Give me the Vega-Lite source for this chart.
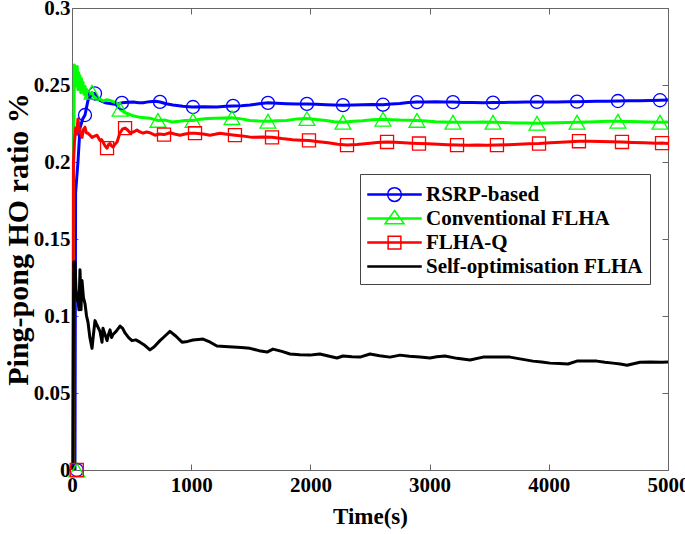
{
  "$schema": "https://vega.github.io/schema/vega-lite/v6.json",
  "width": 596,
  "height": 462,
  "autosize": {"type": "none"},
  "padding": {"left": 72, "top": 8, "right": 17, "bottom": 64},
  "background": "white",
  "config": {
    "view": {"stroke": null},
    "axis": {
      "labelFont": "Liberation Serif", "labelFontWeight": "bold", "labelFontSize": 21, "labelColor": "#000",
      "titleFont": "Liberation Serif", "titleFontWeight": "bold", "titleFontSize": 23, "titleColor": "#000",
      "domainColor": "#666", "tickColor": "#666", "tickSize": -6, "grid": false, "labelPadding": 8,
      "labelFlush": false, "labelOverlap": false
    }
  },
  "datasets": {
    "lines": [
      {"series":"RSRP-based","t":25,"v":0},{"series":"RSRP-based","t":30,"v":0.18},{"series":"RSRP-based","t":50,"v":0.2},{"series":"RSRP-based","t":67,"v":0.222},{"series":"RSRP-based","t":90,"v":0.228},{"series":"RSRP-based","t":109,"v":0.2305},{"series":"RSRP-based","t":134,"v":0.24},{"series":"RSRP-based","t":168,"v":0.2445},{"series":"RSRP-based","t":193,"v":0.2445},{"series":"RSRP-based","t":215,"v":0.241},{"series":"RSRP-based","t":235,"v":0.24},{"series":"RSRP-based","t":277,"v":0.2385},{"series":"RSRP-based","t":319,"v":0.238},{"series":"RSRP-based","t":361,"v":0.2375},{"series":"RSRP-based","t":419,"v":0.2384},{"series":"RSRP-based","t":470,"v":0.2388},{"series":"RSRP-based","t":512,"v":0.239},{"series":"RSRP-based","t":560,"v":0.2385},{"series":"RSRP-based","t":596,"v":0.2385},{"series":"RSRP-based","t":650,"v":0.2392},{"series":"RSRP-based","t":700,"v":0.2395},{"series":"RSRP-based","t":738,"v":0.239},{"series":"RSRP-based","t":790,"v":0.2378},{"series":"RSRP-based","t":847,"v":0.237},{"series":"RSRP-based","t":930,"v":0.2362},{"series":"RSRP-based","t":1007,"v":0.2357},{"series":"RSRP-based","t":1100,"v":0.2358},{"series":"RSRP-based","t":1216,"v":0.2357},{"series":"RSRP-based","t":1290,"v":0.2362},{"series":"RSRP-based","t":1351,"v":0.2364},{"series":"RSRP-based","t":1420,"v":0.2366},{"series":"RSRP-based","t":1493,"v":0.237},{"series":"RSRP-based","t":1570,"v":0.2378},{"series":"RSRP-based","t":1644,"v":0.2384},{"series":"RSRP-based","t":1720,"v":0.2381},{"series":"RSRP-based","t":1800,"v":0.2378},{"series":"RSRP-based","t":1890,"v":0.2376},{"series":"RSRP-based","t":1971,"v":0.2377},{"series":"RSRP-based","t":2050,"v":0.2375},{"series":"RSRP-based","t":2130,"v":0.2372},{"series":"RSRP-based","t":2200,"v":0.237},{"series":"RSRP-based","t":2273,"v":0.2369},{"series":"RSRP-based","t":2360,"v":0.237},{"series":"RSRP-based","t":2440,"v":0.2371},{"series":"RSRP-based","t":2520,"v":0.2373},{"series":"RSRP-based","t":2609,"v":0.2372},{"series":"RSRP-based","t":2680,"v":0.2376},{"series":"RSRP-based","t":2750,"v":0.238},{"series":"RSRP-based","t":2820,"v":0.2386},{"series":"RSRP-based","t":2894,"v":0.2389},{"series":"RSRP-based","t":2970,"v":0.239},{"series":"RSRP-based","t":3050,"v":0.2391},{"series":"RSRP-based","t":3120,"v":0.2389},{"series":"RSRP-based","t":3196,"v":0.2389},{"series":"RSRP-based","t":3280,"v":0.2387},{"series":"RSRP-based","t":3360,"v":0.2386},{"series":"RSRP-based","t":3450,"v":0.2385},{"series":"RSRP-based","t":3532,"v":0.2386},{"series":"RSRP-based","t":3620,"v":0.2387},{"series":"RSRP-based","t":3720,"v":0.2388},{"series":"RSRP-based","t":3810,"v":0.2389},{"series":"RSRP-based","t":3901,"v":0.239},{"series":"RSRP-based","t":3990,"v":0.239},{"series":"RSRP-based","t":4070,"v":0.239},{"series":"RSRP-based","t":4160,"v":0.2391},{"series":"RSRP-based","t":4237,"v":0.2392},{"series":"RSRP-based","t":4320,"v":0.2393},{"series":"RSRP-based","t":4400,"v":0.2394},{"series":"RSRP-based","t":4490,"v":0.2395},{"series":"RSRP-based","t":4580,"v":0.2396},{"series":"RSRP-based","t":4670,"v":0.2397},{"series":"RSRP-based","t":4760,"v":0.2398},{"series":"RSRP-based","t":4850,"v":0.24},{"series":"RSRP-based","t":4933,"v":0.2401},{"series":"RSRP-based","t":5000,"v":0.2402},
      {"series":"Conventional FLHA","t":10,"v":0},{"series":"Conventional FLHA","t":14,"v":0.2},{"series":"Conventional FLHA","t":20,"v":0.263},{"series":"Conventional FLHA","t":26,"v":0.249},{"series":"Conventional FLHA","t":32,"v":0.261},{"series":"Conventional FLHA","t":38,"v":0.252},{"series":"Conventional FLHA","t":44,"v":0.262},{"series":"Conventional FLHA","t":50,"v":0.247},{"series":"Conventional FLHA","t":56,"v":0.258},{"series":"Conventional FLHA","t":62,"v":0.249},{"series":"Conventional FLHA","t":67,"v":0.256},{"series":"Conventional FLHA","t":74,"v":0.245},{"series":"Conventional FLHA","t":80,"v":0.254},{"series":"Conventional FLHA","t":86,"v":0.246},{"series":"Conventional FLHA","t":92,"v":0.252},{"series":"Conventional FLHA","t":100,"v":0.244},{"series":"Conventional FLHA","t":110,"v":0.249},{"series":"Conventional FLHA","t":118,"v":0.242},{"series":"Conventional FLHA","t":126,"v":0.247},{"series":"Conventional FLHA","t":134,"v":0.243},{"series":"Conventional FLHA","t":151,"v":0.2445},{"series":"Conventional FLHA","t":168,"v":0.2453},{"series":"Conventional FLHA","t":180,"v":0.2425},{"series":"Conventional FLHA","t":193,"v":0.242},{"series":"Conventional FLHA","t":215,"v":0.2405},{"series":"Conventional FLHA","t":235,"v":0.241},{"series":"Conventional FLHA","t":260,"v":0.2395},{"series":"Conventional FLHA","t":290,"v":0.2405},{"series":"Conventional FLHA","t":319,"v":0.24},{"series":"Conventional FLHA","t":350,"v":0.239},{"series":"Conventional FLHA","t":378,"v":0.238},{"series":"Conventional FLHA","t":403,"v":0.2343},{"series":"Conventional FLHA","t":445,"v":0.232},{"series":"Conventional FLHA","t":480,"v":0.231},{"series":"Conventional FLHA","t":512,"v":0.23},{"series":"Conventional FLHA","t":570,"v":0.229},{"series":"Conventional FLHA","t":610,"v":0.2288},{"series":"Conventional FLHA","t":654,"v":0.2284},{"series":"Conventional FLHA","t":721,"v":0.227},{"series":"Conventional FLHA","t":780,"v":0.2272},{"series":"Conventional FLHA","t":839,"v":0.226},{"series":"Conventional FLHA","t":900,"v":0.2265},{"series":"Conventional FLHA","t":948,"v":0.227},{"series":"Conventional FLHA","t":1015,"v":0.227},{"series":"Conventional FLHA","t":1074,"v":0.2278},{"series":"Conventional FLHA","t":1140,"v":0.2282},{"series":"Conventional FLHA","t":1200,"v":0.2284},{"series":"Conventional FLHA","t":1280,"v":0.2286},{"series":"Conventional FLHA","t":1342,"v":0.2288},{"series":"Conventional FLHA","t":1420,"v":0.228},{"series":"Conventional FLHA","t":1493,"v":0.227},{"series":"Conventional FLHA","t":1570,"v":0.2266},{"series":"Conventional FLHA","t":1644,"v":0.2265},{"series":"Conventional FLHA","t":1720,"v":0.2268},{"series":"Conventional FLHA","t":1800,"v":0.227},{"series":"Conventional FLHA","t":1890,"v":0.228},{"series":"Conventional FLHA","t":1971,"v":0.2282},{"series":"Conventional FLHA","t":2050,"v":0.2276},{"series":"Conventional FLHA","t":2130,"v":0.227},{"series":"Conventional FLHA","t":2200,"v":0.2262},{"series":"Conventional FLHA","t":2273,"v":0.2258},{"series":"Conventional FLHA","t":2360,"v":0.2264},{"series":"Conventional FLHA","t":2440,"v":0.2268},{"series":"Conventional FLHA","t":2520,"v":0.2274},{"series":"Conventional FLHA","t":2609,"v":0.2278},{"series":"Conventional FLHA","t":2680,"v":0.2275},{"series":"Conventional FLHA","t":2750,"v":0.2272},{"series":"Conventional FLHA","t":2820,"v":0.2271},{"series":"Conventional FLHA","t":2894,"v":0.227},{"series":"Conventional FLHA","t":2970,"v":0.2266},{"series":"Conventional FLHA","t":3050,"v":0.2262},{"series":"Conventional FLHA","t":3120,"v":0.226},{"series":"Conventional FLHA","t":3196,"v":0.2258},{"series":"Conventional FLHA","t":3280,"v":0.2258},{"series":"Conventional FLHA","t":3360,"v":0.2258},{"series":"Conventional FLHA","t":3450,"v":0.2259},{"series":"Conventional FLHA","t":3532,"v":0.2258},{"series":"Conventional FLHA","t":3620,"v":0.2256},{"series":"Conventional FLHA","t":3720,"v":0.2254},{"series":"Conventional FLHA","t":3810,"v":0.2253},{"series":"Conventional FLHA","t":3901,"v":0.2252},{"series":"Conventional FLHA","t":3990,"v":0.2254},{"series":"Conventional FLHA","t":4070,"v":0.2255},{"series":"Conventional FLHA","t":4160,"v":0.2257},{"series":"Conventional FLHA","t":4237,"v":0.2258},{"series":"Conventional FLHA","t":4320,"v":0.226},{"series":"Conventional FLHA","t":4400,"v":0.2262},{"series":"Conventional FLHA","t":4490,"v":0.2264},{"series":"Conventional FLHA","t":4580,"v":0.2265},{"series":"Conventional FLHA","t":4670,"v":0.2263},{"series":"Conventional FLHA","t":4760,"v":0.2262},{"series":"Conventional FLHA","t":4850,"v":0.226},{"series":"Conventional FLHA","t":4933,"v":0.2258},{"series":"Conventional FLHA","t":5000,"v":0.226},
      {"series":"FLHA-Q","t":8,"v":0},{"series":"FLHA-Q","t":12,"v":0.2},{"series":"FLHA-Q","t":20,"v":0.212},{"series":"FLHA-Q","t":30,"v":0.222},{"series":"FLHA-Q","t":40,"v":0.218},{"series":"FLHA-Q","t":50,"v":0.228},{"series":"FLHA-Q","t":60,"v":0.222},{"series":"FLHA-Q","t":70,"v":0.219},{"series":"FLHA-Q","t":84,"v":0.216},{"series":"FLHA-Q","t":96,"v":0.221},{"series":"FLHA-Q","t":109,"v":0.2226},{"series":"FLHA-Q","t":120,"v":0.219},{"series":"FLHA-Q","t":134,"v":0.2187},{"series":"FLHA-Q","t":150,"v":0.2175},{"series":"FLHA-Q","t":168,"v":0.216},{"series":"FLHA-Q","t":190,"v":0.2168},{"series":"FLHA-Q","t":210,"v":0.2174},{"series":"FLHA-Q","t":235,"v":0.214},{"series":"FLHA-Q","t":248,"v":0.2145},{"series":"FLHA-Q","t":260,"v":0.213},{"series":"FLHA-Q","t":277,"v":0.2105},{"series":"FLHA-Q","t":294,"v":0.209},{"series":"FLHA-Q","t":308,"v":0.2115},{"series":"FLHA-Q","t":319,"v":0.212},{"series":"FLHA-Q","t":332,"v":0.2105},{"series":"FLHA-Q","t":344,"v":0.2097},{"series":"FLHA-Q","t":360,"v":0.2115},{"series":"FLHA-Q","t":378,"v":0.213},{"series":"FLHA-Q","t":403,"v":0.219},{"series":"FLHA-Q","t":425,"v":0.2215},{"series":"FLHA-Q","t":445,"v":0.222},{"series":"FLHA-Q","t":465,"v":0.221},{"series":"FLHA-Q","t":487,"v":0.219},{"series":"FLHA-Q","t":515,"v":0.2195},{"series":"FLHA-Q","t":545,"v":0.2207},{"series":"FLHA-Q","t":570,"v":0.2195},{"series":"FLHA-Q","t":596,"v":0.2187},{"series":"FLHA-Q","t":625,"v":0.2195},{"series":"FLHA-Q","t":654,"v":0.219},{"series":"FLHA-Q","t":696,"v":0.2174},{"series":"FLHA-Q","t":730,"v":0.2182},{"series":"FLHA-Q","t":772,"v":0.2178},{"series":"FLHA-Q","t":822,"v":0.219},{"series":"FLHA-Q","t":860,"v":0.2182},{"series":"FLHA-Q","t":906,"v":0.2174},{"series":"FLHA-Q","t":950,"v":0.2182},{"series":"FLHA-Q","t":990,"v":0.2187},{"series":"FLHA-Q","t":1032,"v":0.2187},{"series":"FLHA-Q","t":1100,"v":0.2182},{"series":"FLHA-Q","t":1158,"v":0.2174},{"series":"FLHA-Q","t":1200,"v":0.218},{"series":"FLHA-Q","t":1242,"v":0.2187},{"series":"FLHA-Q","t":1300,"v":0.218},{"series":"FLHA-Q","t":1367,"v":0.2174},{"series":"FLHA-Q","t":1440,"v":0.2168},{"series":"FLHA-Q","t":1510,"v":0.216},{"series":"FLHA-Q","t":1600,"v":0.2162},{"series":"FLHA-Q","t":1678,"v":0.216},{"series":"FLHA-Q","t":1760,"v":0.2152},{"series":"FLHA-Q","t":1850,"v":0.2145},{"series":"FLHA-Q","t":1920,"v":0.2142},{"series":"FLHA-Q","t":1988,"v":0.214},{"series":"FLHA-Q","t":2070,"v":0.2132},{"series":"FLHA-Q","t":2150,"v":0.2125},{"series":"FLHA-Q","t":2230,"v":0.2115},{"series":"FLHA-Q","t":2307,"v":0.211},{"series":"FLHA-Q","t":2390,"v":0.2113},{"series":"FLHA-Q","t":2480,"v":0.212},{"series":"FLHA-Q","t":2560,"v":0.2126},{"series":"FLHA-Q","t":2643,"v":0.213},{"series":"FLHA-Q","t":2710,"v":0.2128},{"series":"FLHA-Q","t":2785,"v":0.2125},{"series":"FLHA-Q","t":2850,"v":0.2122},{"series":"FLHA-Q","t":2911,"v":0.212},{"series":"FLHA-Q","t":2990,"v":0.2118},{"series":"FLHA-Q","t":3070,"v":0.2115},{"series":"FLHA-Q","t":3150,"v":0.2112},{"series":"FLHA-Q","t":3230,"v":0.211},{"series":"FLHA-Q","t":3320,"v":0.2108},{"series":"FLHA-Q","t":3400,"v":0.211},{"series":"FLHA-Q","t":3480,"v":0.2108},{"series":"FLHA-Q","t":3565,"v":0.211},{"series":"FLHA-Q","t":3660,"v":0.2112},{"series":"FLHA-Q","t":3750,"v":0.2115},{"series":"FLHA-Q","t":3830,"v":0.2118},{"series":"FLHA-Q","t":3918,"v":0.212},{"series":"FLHA-Q","t":4010,"v":0.2125},{"series":"FLHA-Q","t":4100,"v":0.2128},{"series":"FLHA-Q","t":4180,"v":0.2132},{"series":"FLHA-Q","t":4253,"v":0.2135},{"series":"FLHA-Q","t":4340,"v":0.2134},{"series":"FLHA-Q","t":4430,"v":0.2133},{"series":"FLHA-Q","t":4520,"v":0.2132},{"series":"FLHA-Q","t":4614,"v":0.213},{"series":"FLHA-Q","t":4700,"v":0.2127},{"series":"FLHA-Q","t":4800,"v":0.2125},{"series":"FLHA-Q","t":4900,"v":0.2122},{"series":"FLHA-Q","t":4950,"v":0.2123},{"series":"FLHA-Q","t":5000,"v":0.212},
      {"series":"Self-optimisation FLHA","t":8,"v":0},{"series":"Self-optimisation FLHA","t":12,"v":0.1},{"series":"Self-optimisation FLHA","t":15,"v":0.135},{"series":"Self-optimisation FLHA","t":25,"v":0.135},{"series":"Self-optimisation FLHA","t":33,"v":0.118},{"series":"Self-optimisation FLHA","t":42,"v":0.11},{"series":"Self-optimisation FLHA","t":50,"v":0.112},{"series":"Self-optimisation FLHA","t":58,"v":0.104},{"series":"Self-optimisation FLHA","t":67,"v":0.13},{"series":"Self-optimisation FLHA","t":72,"v":0.118},{"series":"Self-optimisation FLHA","t":76,"v":0.104},{"series":"Self-optimisation FLHA","t":80,"v":0.118},{"series":"Self-optimisation FLHA","t":84,"v":0.123},{"series":"Self-optimisation FLHA","t":96,"v":0.112},{"series":"Self-optimisation FLHA","t":109,"v":0.108},{"series":"Self-optimisation FLHA","t":122,"v":0.1},{"series":"Self-optimisation FLHA","t":134,"v":0.096},{"series":"Self-optimisation FLHA","t":150,"v":0.086},{"series":"Self-optimisation FLHA","t":168,"v":0.079},{"series":"Self-optimisation FLHA","t":180,"v":0.088},{"series":"Self-optimisation FLHA","t":193,"v":0.097},{"series":"Self-optimisation FLHA","t":210,"v":0.094},{"series":"Self-optimisation FLHA","t":235,"v":0.09},{"series":"Self-optimisation FLHA","t":252,"v":0.083},{"series":"Self-optimisation FLHA","t":260,"v":0.092},{"series":"Self-optimisation FLHA","t":277,"v":0.088},{"series":"Self-optimisation FLHA","t":294,"v":0.084},{"series":"Self-optimisation FLHA","t":306,"v":0.088},{"series":"Self-optimisation FLHA","t":319,"v":0.091},{"series":"Self-optimisation FLHA","t":332,"v":0.086},{"series":"Self-optimisation FLHA","t":344,"v":0.088},{"series":"Self-optimisation FLHA","t":370,"v":0.09},{"series":"Self-optimisation FLHA","t":403,"v":0.0935},{"series":"Self-optimisation FLHA","t":425,"v":0.092},{"series":"Self-optimisation FLHA","t":445,"v":0.089},{"series":"Self-optimisation FLHA","t":475,"v":0.086},{"series":"Self-optimisation FLHA","t":503,"v":0.084},{"series":"Self-optimisation FLHA","t":535,"v":0.0845},{"series":"Self-optimisation FLHA","t":570,"v":0.083},{"series":"Self-optimisation FLHA","t":610,"v":0.081},{"series":"Self-optimisation FLHA","t":654,"v":0.078},{"series":"Self-optimisation FLHA","t":690,"v":0.08},{"series":"Self-optimisation FLHA","t":738,"v":0.084},{"series":"Self-optimisation FLHA","t":780,"v":0.087},{"series":"Self-optimisation FLHA","t":822,"v":0.09},{"series":"Self-optimisation FLHA","t":870,"v":0.087},{"series":"Self-optimisation FLHA","t":923,"v":0.083},{"series":"Self-optimisation FLHA","t":970,"v":0.0835},{"series":"Self-optimisation FLHA","t":1015,"v":0.0844},{"series":"Self-optimisation FLHA","t":1060,"v":0.0848},{"series":"Self-optimisation FLHA","t":1099,"v":0.085},{"series":"Self-optimisation FLHA","t":1160,"v":0.083},{"series":"Self-optimisation FLHA","t":1216,"v":0.0805},{"series":"Self-optimisation FLHA","t":1280,"v":0.0802},{"series":"Self-optimisation FLHA","t":1351,"v":0.0798},{"series":"Self-optimisation FLHA","t":1420,"v":0.0795},{"series":"Self-optimisation FLHA","t":1493,"v":0.079},{"series":"Self-optimisation FLHA","t":1570,"v":0.0775},{"series":"Self-optimisation FLHA","t":1636,"v":0.0766},{"series":"Self-optimisation FLHA","t":1686,"v":0.0785},{"series":"Self-optimisation FLHA","t":1760,"v":0.077},{"series":"Self-optimisation FLHA","t":1829,"v":0.0753},{"series":"Self-optimisation FLHA","t":1910,"v":0.0748},{"series":"Self-optimisation FLHA","t":1997,"v":0.0746},{"series":"Self-optimisation FLHA","t":2040,"v":0.075},{"series":"Self-optimisation FLHA","t":2080,"v":0.0753},{"series":"Self-optimisation FLHA","t":2150,"v":0.074},{"series":"Self-optimisation FLHA","t":2223,"v":0.0727},{"series":"Self-optimisation FLHA","t":2273,"v":0.074},{"series":"Self-optimisation FLHA","t":2350,"v":0.0735},{"series":"Self-optimisation FLHA","t":2416,"v":0.0733},{"series":"Self-optimisation FLHA","t":2500,"v":0.0753},{"series":"Self-optimisation FLHA","t":2580,"v":0.0742},{"series":"Self-optimisation FLHA","t":2668,"v":0.0733},{"series":"Self-optimisation FLHA","t":2752,"v":0.0746},{"series":"Self-optimisation FLHA","t":2830,"v":0.0738},{"series":"Self-optimisation FLHA","t":2919,"v":0.0733},{"series":"Self-optimisation FLHA","t":3003,"v":0.0727},{"series":"Self-optimisation FLHA","t":3060,"v":0.0735},{"series":"Self-optimisation FLHA","t":3129,"v":0.074},{"series":"Self-optimisation FLHA","t":3230,"v":0.0725},{"series":"Self-optimisation FLHA","t":3339,"v":0.0714},{"series":"Self-optimisation FLHA","t":3448,"v":0.0733},{"series":"Self-optimisation FLHA","t":3560,"v":0.0734},{"series":"Self-optimisation FLHA","t":3674,"v":0.0733},{"series":"Self-optimisation FLHA","t":3770,"v":0.072},{"series":"Self-optimisation FLHA","t":3867,"v":0.0707},{"series":"Self-optimisation FLHA","t":3940,"v":0.0702},{"series":"Self-optimisation FLHA","t":4010,"v":0.0694},{"series":"Self-optimisation FLHA","t":4090,"v":0.0691},{"series":"Self-optimisation FLHA","t":4161,"v":0.0688},{"series":"Self-optimisation FLHA","t":4236,"v":0.0707},{"series":"Self-optimisation FLHA","t":4320,"v":0.0708},{"series":"Self-optimisation FLHA","t":4404,"v":0.0707},{"series":"Self-optimisation FLHA","t":4470,"v":0.07},{"series":"Self-optimisation FLHA","t":4538,"v":0.0694},{"series":"Self-optimisation FLHA","t":4600,"v":0.0688},{"series":"Self-optimisation FLHA","t":4656,"v":0.068},{"series":"Self-optimisation FLHA","t":4765,"v":0.07},{"series":"Self-optimisation FLHA","t":4850,"v":0.0702},{"series":"Self-optimisation FLHA","t":4950,"v":0.07},{"series":"Self-optimisation FLHA","t":5000,"v":0.0702}
    ],
    "markers": [
      {"series":"RSRP-based","t":40,"v":0},{"series":"RSRP-based","t":109,"v":0.2305},{"series":"RSRP-based","t":193,"v":0.2445},{"series":"RSRP-based","t":419,"v":0.2384},{"series":"RSRP-based","t":738,"v":0.239},{"series":"RSRP-based","t":1015,"v":0.2357},{"series":"RSRP-based","t":1351,"v":0.2364},{"series":"RSRP-based","t":1644,"v":0.2384},{"series":"RSRP-based","t":1971,"v":0.2377},{"series":"RSRP-based","t":2273,"v":0.2369},{"series":"RSRP-based","t":2609,"v":0.2372},{"series":"RSRP-based","t":2894,"v":0.2389},{"series":"RSRP-based","t":3196,"v":0.2389},{"series":"RSRP-based","t":3532,"v":0.2386},{"series":"RSRP-based","t":3901,"v":0.239},{"series":"RSRP-based","t":4237,"v":0.2392},{"series":"RSRP-based","t":4580,"v":0.2396},{"series":"RSRP-based","t":4933,"v":0.2401},
      {"series":"Conventional FLHA","t":40,"v":0},{"series":"Conventional FLHA","t":168,"v":0.2453},{"series":"Conventional FLHA","t":403,"v":0.2343},{"series":"Conventional FLHA","t":721,"v":0.227},{"series":"Conventional FLHA","t":1015,"v":0.227},{"series":"Conventional FLHA","t":1342,"v":0.2288},{"series":"Conventional FLHA","t":1644,"v":0.2265},{"series":"Conventional FLHA","t":1971,"v":0.2282},{"series":"Conventional FLHA","t":2273,"v":0.2258},{"series":"Conventional FLHA","t":2609,"v":0.2278},{"series":"Conventional FLHA","t":2894,"v":0.227},{"series":"Conventional FLHA","t":3196,"v":0.2258},{"series":"Conventional FLHA","t":3532,"v":0.2258},{"series":"Conventional FLHA","t":3901,"v":0.2252},{"series":"Conventional FLHA","t":4237,"v":0.2258},{"series":"Conventional FLHA","t":4580,"v":0.2265},{"series":"Conventional FLHA","t":4933,"v":0.2258},
      {"series":"FLHA-Q","t":40,"v":0},{"series":"FLHA-Q","t":294,"v":0.209},{"series":"FLHA-Q","t":445,"v":0.222},{"series":"FLHA-Q","t":772,"v":0.2178},{"series":"FLHA-Q","t":1032,"v":0.2187},{"series":"FLHA-Q","t":1367,"v":0.2174},{"series":"FLHA-Q","t":1678,"v":0.216},{"series":"FLHA-Q","t":1988,"v":0.214},{"series":"FLHA-Q","t":2307,"v":0.211},{"series":"FLHA-Q","t":2643,"v":0.213},{"series":"FLHA-Q","t":2911,"v":0.212},{"series":"FLHA-Q","t":3230,"v":0.211},{"series":"FLHA-Q","t":3565,"v":0.211},{"series":"FLHA-Q","t":3918,"v":0.212},{"series":"FLHA-Q","t":4253,"v":0.2135},{"series":"FLHA-Q","t":4614,"v":0.213},{"series":"FLHA-Q","t":4950,"v":0.2123}
    ]
  },
  "resolve": {"axis": {"x": "independent", "y": "independent"}},
  "layer": [
    {
      "data": {"name": "lines"},
      "transform": [{"filter": "datum.series === 'RSRP-based'"}],
      "mark": {"type": "line", "strokeWidth": 3, "strokeJoin": "round", "color": "#0000ff"},
      "encoding": {
        "x": {"field": "t", "type": "quantitative", "scale": {"domain": [0, 5000], "nice": false, "zero": false},
          "axis": {"orient": "bottom", "values": [0, 1000, 2000, 3000, 4000, 5000], "format": "d", "title": "Time(s)", "titlePadding": 10, "labelPadding": 10}},
        "y": {"field": "v", "type": "quantitative", "scale": {"domain": [0, 0.3], "nice": false, "zero": false},
          "axis": {"orient": "left", "values": [0, 0.05, 0.1, 0.15, 0.2, 0.25, 0.3], "format": "~g", "title": "Ping-pong HO ratio %", "titleFontSize": 30, "titlePadding": 0}}
      }
    },
    {
      "data": {"name": "lines"},
      "transform": [{"filter": "datum.series === 'Conventional FLHA'"}],
      "mark": {"type": "line", "strokeWidth": 3, "strokeJoin": "round", "color": "#00ff00"},
      "encoding": {
        "x": {"field": "t", "type": "quantitative", "axis": null},
        "y": {"field": "v", "type": "quantitative", "axis": null}
      }
    },
    {
      "data": {"name": "lines"},
      "transform": [{"filter": "datum.series === 'FLHA-Q'"}],
      "mark": {"type": "line", "strokeWidth": 3, "strokeJoin": "round", "color": "#ff0000"},
      "encoding": {
        "x": {"field": "t", "type": "quantitative", "axis": null},
        "y": {"field": "v", "type": "quantitative", "axis": null}
      }
    },
    {
      "data": {"name": "lines"},
      "transform": [{"filter": "datum.series === 'Self-optimisation FLHA'"}],
      "mark": {"type": "line", "strokeWidth": 3, "strokeJoin": "round", "color": "#000000"},
      "encoding": {
        "x": {"field": "t", "type": "quantitative", "axis": null},
        "y": {"field": "v", "type": "quantitative", "axis": null}
      }
    },
    {
      "data": {"name": "markers"},
      "transform": [{"filter": "datum.series === 'RSRP-based'"}],
      "mark": {"type": "point", "shape": "circle", "filled": false, "size": 170, "strokeWidth": 1.3, "color": "#0000ff", "opacity": 1},
      "encoding": {
        "x": {"field": "t", "type": "quantitative", "axis": null},
        "y": {"field": "v", "type": "quantitative", "axis": null}
      }
    },
    {
      "data": {"name": "markers"},
      "transform": [{"filter": "datum.series === 'Conventional FLHA'"}],
      "mark": {"type": "point", "shape": "triangle-up", "filled": false, "size": 250, "strokeWidth": 1.3, "color": "#00ff00", "opacity": 1},
      "encoding": {
        "x": {"field": "t", "type": "quantitative", "axis": null},
        "y": {"field": "v", "type": "quantitative", "axis": null}
      }
    },
    {
      "data": {"name": "markers"},
      "transform": [{"filter": "datum.series === 'FLHA-Q'"}],
      "mark": {"type": "point", "shape": "square", "filled": false, "size": 170, "strokeWidth": 1.3, "color": "#ff0000", "opacity": 1},
      "encoding": {
        "x": {"field": "t", "type": "quantitative", "axis": null},
        "y": {"field": "v", "type": "quantitative", "axis": null}
      }
    },
    {
      "data": {"name": "markers"},
      "transform": [{"filter": "datum.t < 0"}],
      "mark": {"type": "point", "filled": false, "opacity": 1, "strokeWidth": 1.5},
      "encoding": {
        "x": {"field": "t", "type": "quantitative",
          "axis": {"orient": "top", "values": [0, 1000, 2000, 3000, 4000, 5000], "labels": false, "title": null}},
        "y": {"field": "v", "type": "quantitative",
          "axis": {"orient": "right", "values": [0, 0.05, 0.1, 0.15, 0.2, 0.25, 0.3], "labels": false, "title": null}},
        "color": {"field": "series", "type": "nominal",
          "scale": {"domain": ["RSRP-based", "Conventional FLHA", "FLHA-Q", "Self-optimisation FLHA"], "range": ["#0000ff", "#00ff00", "#ff0000", "#000000"]},
          "legend": {"title": null, "orient": "none", "legendX": 288, "legendY": 166, "direction": "vertical",
            "fillColor": "white", "strokeColor": "#444", "padding": 7,
            "symbolSize": 625, "symbolOffset": 14, "symbolStrokeWidth": 1.5, "symbolFillColor": "transparent", "symbolOpacity": 1,
            "labelFont": "Liberation Serif", "labelFontWeight": "bold", "labelFontSize": 21, "labelColor": "#000",
            "labelOffset": 18, "rowPadding": 0, "labelLimit": 400}},
        "shape": {"field": "series", "type": "nominal",
          "scale": {"domain": ["RSRP-based", "Conventional FLHA", "FLHA-Q", "Self-optimisation FLHA"],
            "range": [
              "M-2.12,-0.042H2.12V0.042H-2.12Z M0.55,0A0.55,0.55 0 1,1 -0.55,0A0.55,0.55 0 1,1 0.55,0Z",
              "M-2.12,-0.042H2.12V0.042H-2.12Z M0,-0.64L0.76,0.42L-0.76,0.42Z",
              "M-2.12,-0.042H2.12V0.042H-2.12Z M-0.51,-0.51H0.51V0.51H-0.51Z",
              "M-2.12,-0.042H2.12V0.042H-2.12Z"
            ]},
          "legend": {"title": null, "orient": "none", "legendX": 288, "legendY": 166, "direction": "vertical",
            "fillColor": "white", "strokeColor": "#444", "padding": 7,
            "symbolSize": 625, "symbolOffset": 14, "symbolStrokeWidth": 1.5, "symbolFillColor": "transparent", "symbolOpacity": 1,
            "labelFont": "Liberation Serif", "labelFontWeight": "bold", "labelFontSize": 21, "labelColor": "#000",
            "labelOffset": 18, "rowPadding": 0, "labelLimit": 400}}
      }
    }
  ]
}
